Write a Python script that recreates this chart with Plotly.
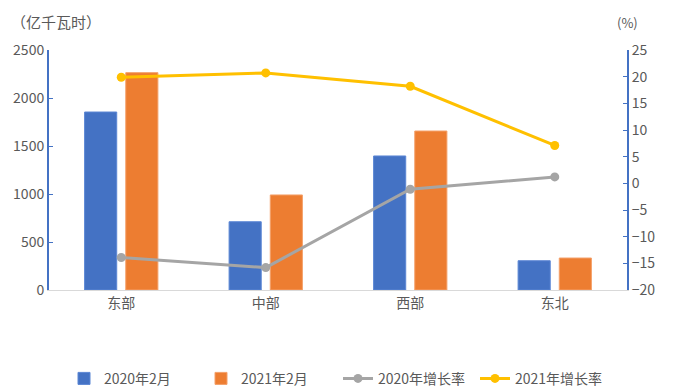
import plotly.graph_objects as go

categories = ["东部", "中部", "西部", "东北"]
consumption_2020 = [1854, 711, 1396, 305]
consumption_2021 = [2264, 990, 1656, 333]
growth_2020 = [-13.9, -15.8, -1.1, 1.2]
growth_2021 = [19.9, 20.7, 18.2, 7.1]

FONT = "Noto Sans CJK SC, Microsoft YaHei, sans-serif"
TXT = "#595959"
AXIS_BLUE = "#4472C4"

fig = go.Figure()
fig.add_trace(go.Bar(x=categories, y=consumption_2020, name="2020年2月",
                     marker=dict(color="#4472C4", line=dict(color="#5B86D4", width=1))))
fig.add_trace(go.Bar(x=categories, y=consumption_2021, name="2021年2月",
                     marker=dict(color="#ED7D31", line=dict(color="#F4A06A", width=1))))
fig.add_trace(go.Scatter(x=categories, y=growth_2020, name="2020年增长率", yaxis="y2",
                         mode="lines+markers", line=dict(color="#A5A5A5", width=3),
                         marker=dict(size=9, color="#A5A5A5")))
fig.add_trace(go.Scatter(x=categories, y=growth_2021, name="2021年增长率", yaxis="y2",
                         mode="lines+markers", line=dict(color="#FFC000", width=3),
                         marker=dict(size=9, color="#FFC000")))

fig.update_layout(
    width=671, height=380,
    margin=dict(l=41, r=52, t=42, b=98, autoexpand=False),
    paper_bgcolor="white", plot_bgcolor="white",
    font=dict(family=FONT, size=14, color=TXT),
    barmode="group", bargap=0.43, bargroupgap=0.22,
    xaxis=dict(showgrid=False, showline=True, linecolor="#D9D9D9", linewidth=1,
               ticks="", tickfont=dict(size=14, color=TXT)),
    yaxis=dict(range=[0, 2500], dtick=500, showgrid=False, zeroline=False,
               showline=True, linecolor=AXIS_BLUE, linewidth=2,
               ticks="inside", ticklen=4, tickcolor=AXIS_BLUE, tickwidth=1,
               tickfont=dict(size=14, color=TXT)),
    yaxis2=dict(range=[-20, 25], dtick=5, overlaying="y", side="right",
                showgrid=False, zeroline=False, showline=True, linecolor=AXIS_BLUE,
                linewidth=2, ticks="inside", ticklen=4, tickcolor=AXIS_BLUE, tickwidth=1,
                tickfont=dict(size=14, color=TXT)),
    legend=dict(orientation="h", x=0.5, xanchor="center", y=-0.37, yanchor="middle",
                font=dict(size=14, color=TXT), itemwidth=30, traceorder="normal",
                entrywidth=92),
    showlegend=True,
    annotations=[
        dict(text="（亿千瓦时）", xref="paper", yref="paper", x=-0.07, y=1.12,
             xanchor="left", yanchor="middle", showarrow=False,
             font=dict(size=15, color=TXT)),
        dict(text="(%)", xref="paper", yref="paper", x=1.0, y=1.115,
             xanchor="center", yanchor="middle", showarrow=False,
             font=dict(size=13, color=TXT)),
    ],
)

fig.write_html("out.html")
